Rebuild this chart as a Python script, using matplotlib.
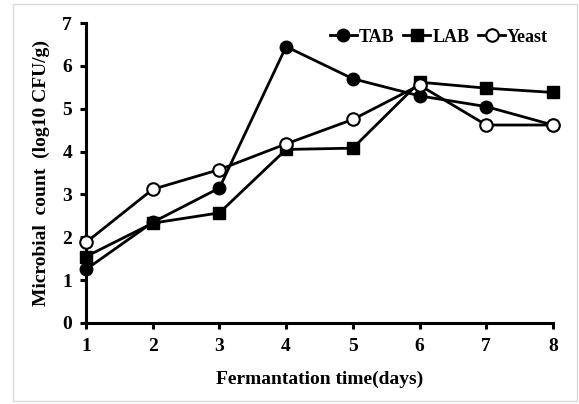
import matplotlib
matplotlib.use("Agg")
import matplotlib.pyplot as plt
from matplotlib.patches import Rectangle

plt.rcParams["font.family"] = ["Liberation Serif", "DejaVu Serif"]
plt.rcParams["font.weight"] = "bold"

days = [1, 2, 3, 4, 5, 6, 7, 8]
tab = [1.25, 2.35, 3.15, 6.45, 5.70, 5.30, 5.05, 4.62]
lab = [1.55, 2.33, 2.57, 4.05, 4.08, 5.62, 5.48, 5.38]
yeast = [1.88, 3.12, 3.58, 4.18, 4.75, 5.55, 4.62, 4.62]

fig = plt.figure(figsize=(5.79, 4.04), dpi=100)
fig.patches.append(Rectangle((0.022, 0.008), 0.975, 0.982, transform=fig.transFigure,
                             fill=False, edgecolor="#d9d9d9", linewidth=1.0))
ax = fig.add_axes([0.1485, 0.2005, 0.8065, 0.7425])

lw = 2.0
ax.plot(days, tab, "o-", color="black", lw=lw, ms=9, mfc="black", mec="black",
        label="TAB", zorder=3, clip_on=False)
ax.plot(days, lab, "s-", color="black", lw=lw, ms=9, mfc="black", mec="black",
        label="LAB", zorder=3, clip_on=False)
ax.plot(days, yeast, "o-", color="black", lw=lw, ms=9, mfc="white", mec="black", mew=1.5,
        label="Yeast", zorder=4, clip_on=False)

ax.set_xlim(1, 8)
ax.set_ylim(0, 7)
ax.set_xticks(days)
ax.set_yticks(range(0, 8))
for s in ["top", "right"]:
    ax.spines[s].set_visible(False)
for s in ["left", "bottom"]:
    ax.spines[s].set_linewidth(2.2)
ax.tick_params(axis="both", direction="out", length=4, width=2.2, labelsize=14)
ax.tick_params(axis="x", pad=7)
ax.tick_params(axis="y", pad=6)
for lbl in ax.get_xticklabels() + ax.get_yticklabels():
    lbl.set_fontweight("bold")
ax.set_xlabel("Fermantation time(days)", fontsize=14, fontweight="bold", labelpad=11)
ax.set_ylabel("Microbial  count  (log10 CFU/g)", fontsize=14, fontweight="bold", labelpad=9)

leg = ax.legend(loc="upper right", ncol=3, frameon=False, fontsize=13, handlelength=1.5,
                handletextpad=0.1, columnspacing=0.5, borderaxespad=0.0,
                bbox_to_anchor=(1.005, 1.005))
for t in leg.get_texts():
    t.set_fontweight("bold")

fig.savefig("out.png", dpi=100)
